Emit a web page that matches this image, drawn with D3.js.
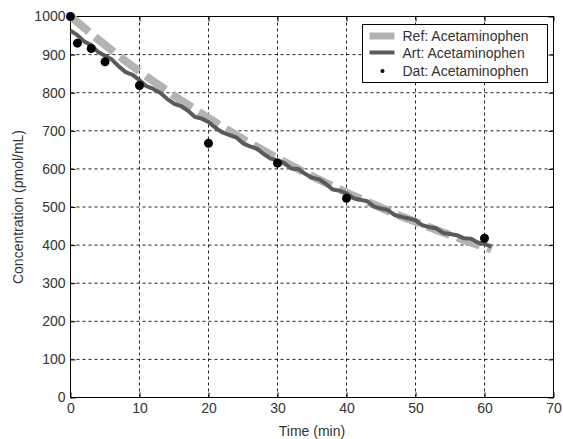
<!DOCTYPE html>
<html>
<head>
<meta charset="utf-8">
<script src="https://cdn.jsdelivr.net/npm/d3@7"></script>
<style>
  html, body { margin: 0; padding: 0; background: #fff; }
  svg { display: block; }
  text { font-family: "Liberation Sans", Arial, sans-serif; }
</style>
</head>
<body>
<svg id="chart" width="563" height="439"></svg>
<script>
// Measured samples (pmol/mL) against time (min)
const datTime = [0, 1, 3, 5, 10, 20, 30, 40, 60];
const datConc = [1000, 930, 916, 881, 819, 667, 615, 523, 418];

// Reference model curve
const refTime = [0, 2, 4, 6, 8, 10, 12, 14, 16, 18, 20, 22, 24, 26, 28, 30,
                 32, 34, 36, 38, 40, 42, 44, 46, 48, 50, 52, 54, 56, 58, 60, 61];
const refConc = [1000, 970, 940, 911, 883, 856, 830, 805, 780, 757, 733, 711,
                 689, 668, 648, 628, 609, 590, 572, 555, 538, 522, 506, 490,
                 475, 461, 447, 433, 420, 407, 395, 388];

// Artificial-model trace, one sample per minute
const artTime = d3.range(0, 62);
const artConc = [963, 951, 934, 925, 907, 897, 887, 869, 854, 847, 833, 817,
                 810, 800, 784, 771, 765, 753, 737, 732, 723, 708, 696, 689,
                 683, 667, 659, 653, 639, 627, 623, 615, 601, 600, 587, 577,
                 573, 561, 546, 543, 536, 523, 519, 515, 501, 496, 492, 479,
                 474, 470, 465, 452, 447, 444, 432, 429, 426, 418, 417, 407,
                 403, 396];

const xTicks = [0, 10, 20, 30, 40, 50, 60, 70];
const yTicks = [0, 100, 200, 300, 400, 500, 600, 700, 800, 900, 1000];

const legendLabels = ["Ref: Acetaminophen", "Art: Acetaminophen", "Dat: Acetaminophen"];

const svg = d3.select("#chart");
const plotLeft = 70.5, plotRight = 553.5, plotTop = 16.5, plotBottom = 397.5;

const x = d3.scaleLinear().domain([0, 70]).range([plotLeft, plotRight]);
const y = d3.scaleLinear().domain([0, 1000]).range([plotBottom, plotTop]);

const textColor = "#333";
const fmt = d3.format("d");

// Dotted grid
const grid = svg.append("g");
grid.selectAll("line.vx").data(xTicks.slice(1, -1)).join("line")
  .attr("x1", d => x(d)).attr("x2", d => x(d))
  .attr("y1", plotTop).attr("y2", plotBottom)
  .attr("stroke", "#222").attr("stroke-width", 1)
  .attr("stroke-dasharray", "3,3");
grid.selectAll("line.hy").data(yTicks.slice(1, -1)).join("line")
  .attr("x1", plotLeft).attr("x2", plotRight)
  .attr("y1", d => y(d)).attr("y2", d => y(d))
  .attr("stroke", "#222").attr("stroke-width", 1)
  .attr("stroke-dasharray", "3,3");

// Axes with inward ticks on all four sides
const tickLen = 5;
svg.append("g").attr("transform", `translate(0,${plotBottom})`)
  .call(d3.axisBottom(x).tickValues(xTicks).tickFormat(fmt)
    .tickSizeInner(-tickLen).tickSizeOuter(0).tickPadding(6))
  .call(g => g.select(".domain").remove());
svg.append("g").attr("transform", `translate(${plotLeft},0)`)
  .call(d3.axisLeft(y).tickValues(yTicks).tickFormat(fmt)
    .tickSizeInner(-tickLen).tickSizeOuter(0).tickPadding(5))
  .call(g => g.select(".domain").remove());
svg.append("g").attr("transform", `translate(0,${plotTop})`)
  .call(d3.axisTop(x).tickValues(xTicks).tickSizeInner(-tickLen).tickSizeOuter(0).tickFormat(""))
  .call(g => g.select(".domain").remove());
svg.append("g").attr("transform", `translate(${plotRight},0)`)
  .call(d3.axisRight(y).tickValues(yTicks).tickSizeInner(-tickLen).tickSizeOuter(0).tickFormat(""))
  .call(g => g.select(".domain").remove());

svg.selectAll(".tick line").attr("stroke", "#000");
svg.selectAll(".tick text")
  .attr("font-size", 14)
  .attr("fill", textColor)
  .attr("font-family", "'Liberation Sans', Arial, sans-serif");

// Frame
svg.append("rect")
  .attr("x", plotLeft).attr("y", plotTop)
  .attr("width", plotRight - plotLeft).attr("height", plotBottom - plotTop)
  .attr("fill", "none").attr("stroke", "#000").attr("stroke-width", 1);

// Reference curve: thick light dashed
const refLine = d3.line().x((d, i) => x(refTime[i])).y(d => y(d)).curve(d3.curveMonotoneX);
svg.append("path")
  .attr("d", refLine(refConc))
  .attr("fill", "none")
  .attr("stroke", "#b3b3b3")
  .attr("stroke-width", 8)
  .attr("stroke-dasharray", "24,8");

// Artificial-model trace: dark solid
const artLine = d3.line().x((d, i) => x(artTime[i])).y(d => y(d));
svg.append("path")
  .attr("d", artLine(artConc))
  .attr("fill", "none")
  .attr("stroke", "#5a5a5a")
  .attr("stroke-width", 4)
  .attr("stroke-linejoin", "round");

// Measured samples
svg.append("g").selectAll("circle").data(datConc).join("circle")
  .attr("cx", (d, i) => x(datTime[i]))
  .attr("cy", d => y(d))
  .attr("r", 4.5)
  .attr("fill", "#000");

// Axis titles
svg.append("text")
  .attr("x", (plotLeft + plotRight) / 2).attr("y", 436)
  .attr("text-anchor", "middle")
  .attr("font-size", 14).attr("fill", textColor)
  .text("Time (min)");
svg.append("text")
  .attr("transform", `translate(23,${(plotTop + plotBottom) / 2}) rotate(-90)`)
  .attr("text-anchor", "middle")
  .attr("font-size", 14).attr("fill", textColor)
  .text("Concentration (pmol/mL)");

// Legend
const lg = svg.append("g").attr("transform", "translate(362.5,24.5)");
lg.append("rect")
  .attr("width", 185).attr("height", 58)
  .attr("fill", "#fff").attr("stroke", "#000").attr("stroke-width", 1);
const rowY = [11.5, 28, 46.5];
lg.append("line").attr("x1", 7).attr("x2", 32).attr("y1", rowY[0]).attr("y2", rowY[0])
  .attr("stroke", "#b3b3b3").attr("stroke-width", 7);
lg.append("line").attr("x1", 7).attr("x2", 32).attr("y1", rowY[1]).attr("y2", rowY[1])
  .attr("stroke", "#5a5a5a").attr("stroke-width", 4);
lg.append("circle").attr("cx", 20).attr("cy", rowY[2]).attr("r", 2).attr("fill", "#000");
lg.selectAll("text").data(legendLabels).join("text")
  .attr("x", 40).attr("y", (d, i) => rowY[i] + 5)
  .attr("font-size", 14).attr("fill", textColor)
  .text(d => d);
</script>
</body>
</html>
